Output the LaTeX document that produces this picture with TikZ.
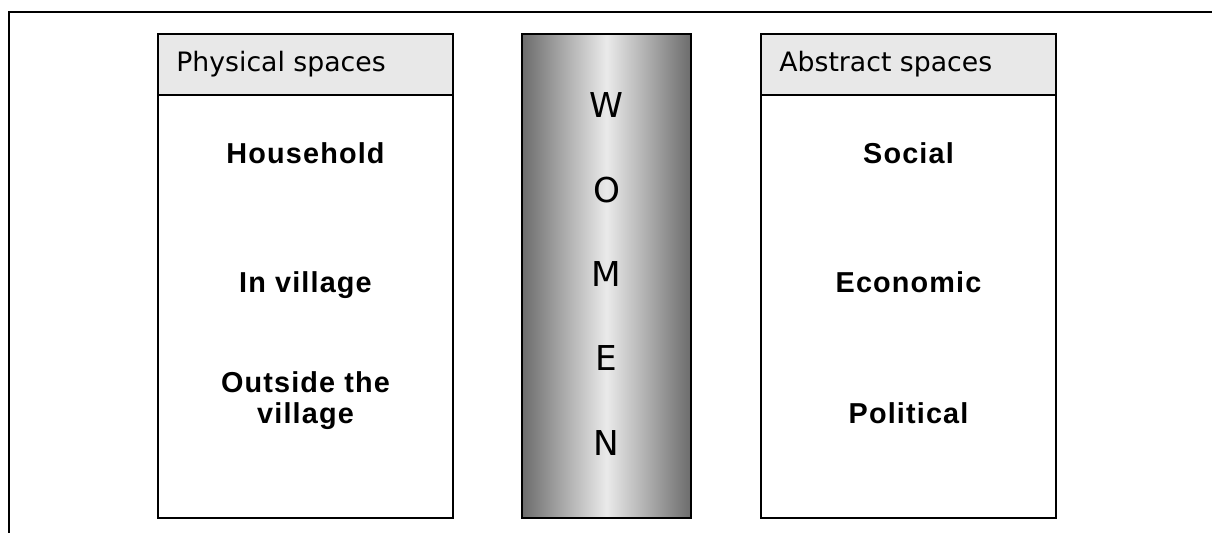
\documentclass[tikz,border=0pt]{standalone}
\usepackage{fontspec}
\setmainfont{DejaVu Sans}
\newfontfamily\labelfont[LetterSpace=4]{Liberation Sans}

\definecolor{headgray}{RGB}{232, 232, 232}
\definecolor{bardark}{RGB}{108, 108, 108}
\definecolor{barlight}{RGB}{234, 234, 234}

\tikzset{
    framerule/.style={draw=black, line width=1.6pt},
    spacebox/.style={draw=black, line width=1.1pt},
    headtext/.style={anchor=base west, inner sep=0pt, font=\fontsize{15.2}{18}\selectfont},
    itemtext/.style={anchor=base, inner sep=0pt, align=center, font=\labelfont\bfseries\fontsize{16.4}{17.1}\selectfont},
    lettertext/.style={anchor=base, inner sep=0pt, font=\fontsize{19.5}{20}\selectfont}
}

\begin{document}
\begin{tikzpicture}[x=0.02cm, y=-0.02cm]
            \useasboundingbox (0,0) rectangle (1212,533);

            \draw[framerule] (9,540) -- (9,12) -- (1220,12);

            \foreach \bx/\name/\title in {158/phys/Physical spaces, 761/abst/Abstract spaces} {
                \fill[headgray] (\bx,34) rectangle ++(295,61);
                \draw[spacebox] (\bx,34) rectangle ++(295,484);
                \draw[spacebox] (\bx,95) -- ++(295,0);
                \node[headtext] (\name head) at (\bx+18,72) {\title};
            }

            \node[itemtext] (phys1) at (305.5,164) {Household};
            \node[itemtext] (phys2) at (305.5,293) {In village};
            \node[itemtext] (phys3) at (305.5,423) {Outside the\\village};

            \node[itemtext] (abst1) at (908.5,164) {Social};
            \node[itemtext] (abst2) at (908.5,293) {Economic};
            \node[itemtext] (abst3) at (908.5,423) {Political};

            \shade[left color=bardark, right color=bardark, middle color=barlight] (522,34) rectangle (691,518);
            \draw[spacebox] (522,34) rectangle (691,518);
            \foreach \l [count=\i from 0] in {W,O,M,E,N} {
                \node[lettertext] (women\i) at (606.5, 118+84.25*\i) {\l};
            }
        \end{tikzpicture}
\end{document}
